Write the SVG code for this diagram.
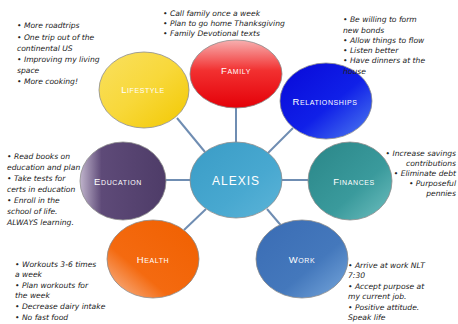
<svg xmlns="http://www.w3.org/2000/svg" width="458" height="324" viewBox="0 0 458 324">
<style>
.n{stroke:#8c8c8c;stroke-width:0.8}
.lb{font-family:"Liberation Sans",Arial,sans-serif;font-variant:small-caps;font-size:9.5px;fill:#fff;text-anchor:middle;letter-spacing:0.6px}
.t{font-family:"DejaVu Sans",sans-serif;font-style:italic;font-size:7.6px;fill:#222}
.c line{stroke:#6f8db2;stroke-width:2}
</style>
<defs>
<linearGradient id="gF" x1="0" y1="0" x2="0" y2="1"><stop offset="0" stop-color="#f7b0b0"/><stop offset="0.45" stop-color="#f23030"/><stop offset="1" stop-color="#e40008"/></linearGradient>
<linearGradient id="gL" x1="0" y1="0" x2="1" y2="1"><stop offset="0" stop-color="#f9e060"/><stop offset="0.5" stop-color="#f8d83a"/><stop offset="1" stop-color="#f2c800"/></linearGradient>
<linearGradient id="gR" x1="0" y1="0" x2="1" y2="1"><stop offset="0" stop-color="#0808d8"/><stop offset="0.55" stop-color="#1020e8"/><stop offset="1" stop-color="#5080f0"/></linearGradient>
<linearGradient id="gE" x1="0" y1="0" x2="1" y2="0"><stop offset="0" stop-color="#c0b4cc"/><stop offset="0.25" stop-color="#5e4a78"/><stop offset="1" stop-color="#4e3c68"/></linearGradient>
<linearGradient id="gFi" x1="0" y1="0" x2="1" y2="1"><stop offset="0" stop-color="#2a8688"/><stop offset="0.6" stop-color="#3a9a9c"/><stop offset="1" stop-color="#70c0c0"/></linearGradient>
<linearGradient id="gH" x1="0" y1="1" x2="1" y2="0"><stop offset="0" stop-color="#f8c0a0"/><stop offset="0.35" stop-color="#f46a10"/><stop offset="1" stop-color="#f06000"/></linearGradient>
<linearGradient id="gW" x1="0" y1="0" x2="1" y2="1"><stop offset="0" stop-color="#3a6cb4"/><stop offset="0.6" stop-color="#4478bc"/><stop offset="1" stop-color="#78a8dc"/></linearGradient>
<linearGradient id="gA" x1="0" y1="0" x2="1" y2="1"><stop offset="0" stop-color="#3a9cc6"/><stop offset="0.6" stop-color="#48a8d0"/><stop offset="1" stop-color="#5cb4d8"/></linearGradient>
</defs>
<rect width="458" height="324" fill="#fff"/>
<g class="c" id="connectors">
<line x1="236" y1="142" x2="236" y2="108"/>
<line x1="205" y1="152" x2="177" y2="118"/>
<line x1="268" y1="153" x2="293" y2="128"/>
<line x1="190" y1="180" x2="165" y2="180"/>
<line x1="282" y1="180" x2="308" y2="180"/>
<line x1="206" y1="209" x2="184" y2="230"/>
<line x1="267" y1="209" x2="284" y2="229"/>
</g>
<g id="family"><ellipse class="n" cx="236" cy="74" rx="46" ry="34" fill="url(#gF)"/><text class="lb" x="236" y="74">Family</text></g>
<g id="lifestyle"><ellipse class="n" cx="144" cy="90" rx="45" ry="38" fill="url(#gL)"/><text class="lb" x="143" y="93">Lifestyle</text></g>
<g id="relationships"><ellipse class="n" cx="326" cy="101" rx="46" ry="38" fill="url(#gR)"/><text class="lb" x="325" y="105">Relationships</text></g>
<g id="education"><ellipse class="n" cx="123" cy="181" rx="43" ry="39" fill="url(#gE)"/><text class="lb" x="118" y="185">Education</text></g>
<g id="alexis"><ellipse class="n" cx="236" cy="180" rx="46" ry="38" fill="url(#gA)"/><text class="lb" x="236" y="185" style="font-size:12px;letter-spacing:1px">ALEXIS</text></g>
<g id="finances"><ellipse class="n" cx="350" cy="181" rx="42" ry="39" fill="url(#gFi)"/><text class="lb" x="354" y="185">Finances</text></g>
<g id="health"><ellipse class="n" cx="153" cy="259" rx="46" ry="39" fill="url(#gH)"/><text class="lb" x="153" y="263">Health</text></g>
<g id="work"><ellipse class="n" cx="302" cy="259" rx="46" ry="39" fill="url(#gW)"/><text class="lb" x="302" y="263">Work</text></g>
<g id="notes">
<text class="t" x="17" y="28">• More roadtrips</text>
<text class="t" x="17" y="40">• One trip out of the</text>
<text class="t" x="17" y="51">continental US</text>
<text class="t" x="17" y="62">• Improving my living</text>
<text class="t" x="17" y="73">space</text>
<text class="t" x="17" y="84">• More cooking!</text>
<text class="t" x="163" y="16">• Call family once a week</text>
<text class="t" x="163" y="26">• Plan to go home Thanksgiving</text>
<text class="t" x="163" y="36">• Family Devotional texts</text>
<text class="t" x="343" y="22">• Be willing to form</text>
<text class="t" x="343" y="33">new bonds</text>
<text class="t" x="343" y="43">• Allow things to flow</text>
<text class="t" x="343" y="53">• Listen better</text>
<text class="t" x="343" y="63">• Have dinners at the</text>
<text class="t" x="343" y="74">house</text>
<text class="t" x="7" y="159">• Read books on</text>
<text class="t" x="7" y="170">education and plan</text>
<text class="t" x="7" y="181">• Take tests for</text>
<text class="t" x="7" y="192">certs in education</text>
<text class="t" x="7" y="203">• Enroll in the</text>
<text class="t" x="7" y="214">school of life.</text>
<text class="t" x="7" y="225">ALWAYS learning.</text>
<text class="t" x="456" y="156" text-anchor="end">• Increase savings</text>
<text class="t" x="456" y="166" text-anchor="end">contributions</text>
<text class="t" x="456" y="176" text-anchor="end">• Eliminate debt</text>
<text class="t" x="456" y="186" text-anchor="end">• Purposeful</text>
<text class="t" x="456" y="196" text-anchor="end">pennies</text>
<text class="t" x="15" y="267">• Workouts 3-6 times</text>
<text class="t" x="15" y="277">a week</text>
<text class="t" x="15" y="288">• Plan workouts for</text>
<text class="t" x="15" y="298">the week</text>
<text class="t" x="15" y="309">• Decrease dairy intake</text>
<text class="t" x="15" y="320">• No fast food</text>
<text class="t" x="348" y="268">• Arrive at work NLT</text>
<text class="t" x="348" y="278">7:30</text>
<text class="t" x="348" y="289">• Accept purpose at</text>
<text class="t" x="348" y="299">my current job.</text>
<text class="t" x="348" y="310">• Positive attitude.</text>
<text class="t" x="348" y="320">Speak life</text>
</g>
</svg>
